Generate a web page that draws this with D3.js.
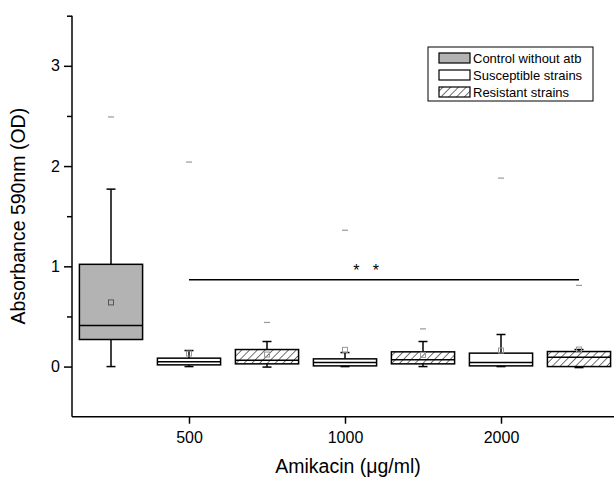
<!DOCTYPE html>
<html><head><meta charset="utf-8">
<script src="https://cdn.jsdelivr.net/npm/d3@7"></script>
<style>body{margin:0;background:#fff}svg{display:block}text{font-family:"Liberation Sans",Arial,sans-serif}</style>
</head><body>
<svg id="c" width="614" height="481"></svg>
<script>
const categories = ["Control", "S500", "R500", "S1000", "R1000", "S2000", "R2000"];
const groups = ["control", "susceptible", "resistant", "susceptible", "resistant", "susceptible", "resistant"];
const whiskerLow = [0, 0, -0.005, 0, 0, 0, -0.01];
const q1 = [0.27, 0.017, 0.027, 0.007, 0.027, 0.007, 0.0];
const median = [0.41, 0.047, 0.064, 0.04, 0.067, 0.04, 0.094];
const q3 = [1.02, 0.084, 0.17, 0.077, 0.147, 0.134, 0.15];
const whiskerHigh = [1.77, 0.16, 0.25, 0.14, 0.25, 0.32, 0.17];
const means = [0.64, 0.13, 0.12, 0.167, 0.117, 0.16, 0.17];
const maxima = [2.49, 2.04, 0.44, 1.36, 0.376, 1.88, 0.81];
const xTickPos = [1.5, 3.5, 5.5];
const xTickLabels = ["500", "1000", "2000"];
const yTicks = [0, 1, 2, 3];
const yMinor = [0.5, 1.5, 2.5, 3.5];
const sigLevel = 0.865;
const sigStarsAt = 3.77;
const legendLabels = ["Control without atb", "Susceptible strains", "Resistant strains"];
const legendGroups = ["control", "susceptible", "resistant"];

const svg = d3.select("#c");
const x = d3.scaleLinear().domain([0, 7]).range([72, 618]);
const y = d3.scaleLinear().domain([-0.5, 3.5]).range([416.7, 15.7]);
const step = x(1) - x(0);
const bw = step * 0.81;

const defs = svg.append("defs");
const pat = defs.append("pattern").attr("id", "hatch").attr("patternUnits", "userSpaceOnUse")
  .attr("width", 5.5).attr("height", 5.5).attr("patternTransform", "rotate(45)");
pat.append("rect").attr("width", 5.5).attr("height", 5.5).attr("fill", "#fff");
pat.append("line").attr("x1", 0).attr("y1", 0).attr("x2", 0).attr("y2", 5.5).attr("stroke", "#000").attr("stroke-width", 1.1);

const fillFor = g => g === "control" ? "#b3b3b3" : g === "susceptible" ? "#fff" : "url(#hatch)";

// Y axis
const yAxis = d3.axisLeft(y).tickValues(yTicks).tickFormat(d3.format("d")).tickSize(8).tickPadding(4);
const gy = svg.append("g").attr("transform", "translate(72,0)").call(yAxis);
gy.select(".domain").attr("d", `M0,${y(3.5)}V${y(-0.5)}`).attr("stroke-width", 1.5);
gy.selectAll(".tick line").attr("stroke-width", 1.5);
gy.selectAll("text").attr("font-size", 16).attr("fill", "#000");
svg.append("g").attr("transform", "translate(72,0)")
  .call(d3.axisLeft(y).tickValues(yMinor).tickSize(5).tickFormat(""))
  .call(g => { g.select(".domain").remove(); g.selectAll("line").attr("stroke-width", 1.5); });

// X axis
const xAxis = d3.axisBottom(x).tickValues(xTickPos).tickFormat((d, i) => xTickLabels[i]).tickSize(7).tickPadding(8);
const gx = svg.append("g").attr("transform", `translate(0,${y(-0.5)})`).call(xAxis);
gx.select(".domain").attr("d", `M${x(0)},0H614`).attr("stroke-width", 1.5);
gx.selectAll(".tick line").attr("stroke-width", 1.5);
gx.selectAll("text").attr("font-size", 16).attr("fill", "#000");

// Axis titles
svg.append("text").attr("transform", `translate(25,${(y(3.5)+y(-0.5))/2}) rotate(-90)`)
  .attr("text-anchor", "middle").attr("font-size", 19.5).text("Absorbance 590nm (OD)");
svg.append("text").attr("x", 348).attr("y", 473).attr("text-anchor", "middle").attr("font-size", 19.5)
  .text("Amikacin (μg/ml)");

// Boxes
const idx = d3.range(categories.length);
const bx = i => x(i + 0.5);
const g = svg.append("g");
g.selectAll(".wu").data(idx).join("line").attr("x1", bx).attr("x2", bx)
  .attr("y1", i => y(q3[i])).attr("y2", i => y(whiskerHigh[i])).attr("stroke", "#000").attr("stroke-width", 1.5);
g.selectAll(".wl").data(idx).join("line").attr("x1", bx).attr("x2", bx)
  .attr("y1", i => y(q1[i])).attr("y2", i => y(whiskerLow[i])).attr("stroke", "#000").attr("stroke-width", 1.5);
const capW = 9;
g.selectAll(".cu").data(idx).join("line").attr("x1", i => bx(i) - capW/2).attr("x2", i => bx(i) + capW/2)
  .attr("y1", i => y(whiskerHigh[i])).attr("y2", i => y(whiskerHigh[i])).attr("stroke", "#000").attr("stroke-width", 1.5);
g.selectAll(".cl").data(idx).join("line").attr("x1", i => bx(i) - capW/2).attr("x2", i => bx(i) + capW/2)
  .attr("y1", i => y(whiskerLow[i])).attr("y2", i => y(whiskerLow[i])).attr("stroke", "#000").attr("stroke-width", 1.5);
g.selectAll(".box").data(idx).join("rect")
  .attr("x", i => bx(i) - bw/2).attr("width", bw)
  .attr("y", i => y(q3[i])).attr("height", i => Math.max(1, y(q1[i]) - y(q3[i])))
  .attr("fill", i => fillFor(groups[i])).attr("stroke", "#000").attr("stroke-width", 1.5);
g.selectAll(".med").data(idx).join("line").attr("x1", i => bx(i) - bw/2).attr("x2", i => bx(i) + bw/2)
  .attr("y1", i => y(median[i])).attr("y2", i => y(median[i])).attr("stroke", "#000").attr("stroke-width", 1.5);
g.selectAll(".mean").data(idx).join("rect")
  .attr("x", i => bx(i) - 2.5).attr("y", i => y(means[i]) - 2.5).attr("width", 5).attr("height", 5)
  .attr("fill", "none").attr("stroke", i => i === 0 ? "#555" : "#999").attr("stroke-width", 1);
g.selectAll(".max").data(idx).join("line").attr("x1", i => bx(i) - 3).attr("x2", i => bx(i) + 3)
  .attr("y1", i => y(maxima[i])).attr("y2", i => y(maxima[i])).attr("stroke", "#999").attr("stroke-width", 1.2);

// significance line
svg.append("line").attr("x1", x(1.5)).attr("x2", x(6.5)).attr("y1", y(sigLevel)).attr("y2", y(sigLevel))
  .attr("stroke", "#000").attr("stroke-width", 1.5);
svg.append("text").attr("x", x(sigStarsAt)).attr("y", y(sigLevel) - 4).attr("text-anchor", "middle")
  .attr("font-size", 16).attr("xml:space", "preserve").text("*   *");

// legend
const lg = svg.append("g").attr("transform", "translate(428,47)");
lg.append("rect").attr("width", 165).attr("height", 54).attr("fill", "#fff").attr("stroke", "#000").attr("stroke-width", 1);
legendLabels.forEach((lab, i) => {
  const yy = 6 + i * 17;
  lg.append("rect").attr("x", 11).attr("y", yy).attr("width", 31).attr("height", 10)
    .attr("fill", fillFor(legendGroups[i])).attr("stroke", "#000").attr("stroke-width", 1.2);
  lg.append("text").attr("x", 45).attr("y", yy + 10).attr("font-size", 13).text(lab);
});
</script>
</body></html>
